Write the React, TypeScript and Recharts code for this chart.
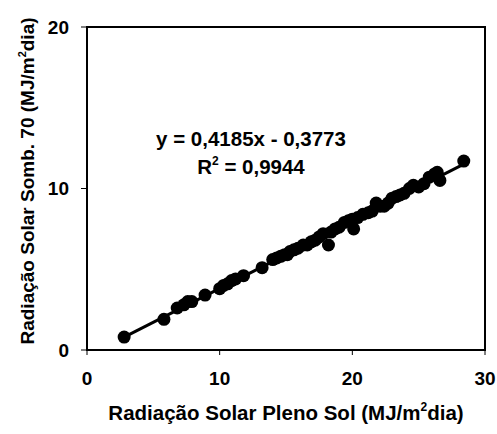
import { ScatterChart, Scatter, XAxis, YAxis, ReferenceArea } from "recharts";

// Radiação pleno sol (x) vs. sombreamento 70% (y), MJ/m²dia
const plenoSol = [
  2.8, 5.8, 6.8, 7.3, 7.6, 7.9, 8.9, 10.0, 10.3, 10.6, 10.9, 11.2, 11.8, 13.2,
  14.0, 14.3, 14.6, 14.9, 15.1, 15.3, 15.6, 15.9, 16.3, 16.6, 16.9, 17.2, 17.5,
  17.8, 18.2, 18.4, 18.7, 19.0, 19.4, 19.7, 20.0, 20.1, 20.4, 20.8, 21.2, 21.5,
  21.8, 22.1, 22.4, 22.7, 23.0, 23.3, 23.6, 23.9, 24.3, 24.6, 25.0, 25.4, 25.8,
  26.2, 26.4, 26.6, 28.4,
];
const somb70 = [
  0.8, 1.9, 2.6, 2.8, 3.0, 3.0, 3.4, 3.8, 4.0, 4.1, 4.3, 4.4, 4.6, 5.1,
  5.6, 5.7, 5.8, 5.9, 5.9, 6.1, 6.2, 6.3, 6.5, 6.5, 6.7, 6.8, 7.0,
  7.2, 6.5, 7.3, 7.5, 7.6, 7.9, 8.0, 8.1, 7.5, 8.2, 8.4, 8.5, 8.6,
  9.1, 8.9, 8.9, 9.1, 9.4, 9.5, 9.6, 9.7, 10.0, 10.2, 10.1, 10.3, 10.7,
  10.9, 11.0, 10.5, 11.7,
];
const xTicks = [0, 10, 20, 30];
const yTicks = [0, 10, 20];

// linear fit shown in the annotation
const slope = 0.4185;
const intercept = -0.3773;
const fitX = [2.8, 28.4];

const points = plenoSol.map((x, i) => ({ x, y: somb70[i] }));
const fitLine = fitX.map((x) => ({ x, y: slope * x + intercept }));

const FONT = "'Liberation Sans', Arial, sans-serif";

const Dot = (props: any) => <circle cx={props.cx} cy={props.cy} r={6.5} fill="#000" />;
const NoDot = () => <g />;

export default function App() {
  return (
    <div style={{ position: "absolute", left: 0, top: 0, background: "#fff" }}>
      <ScatterChart
        width={497}
        height={434}
        margin={{ top: 27, right: 12, bottom: 54, left: 47 }}
        style={{ fontFamily: FONT }}
      >
        <XAxis
          type="number"
          dataKey="x"
          domain={[0, 30]}
          ticks={xTicks}
          height={30}
          axisLine={{ stroke: "#000", strokeWidth: 2 }}
          tickLine={{ stroke: "#000", strokeWidth: 1 }}
          tickSize={5}
          tickMargin={17}
          tick={{ fill: "#000", fontSize: 19, fontWeight: "bold" }}
        />
        <YAxis
          type="number"
          dataKey="y"
          domain={[0, 20]}
          ticks={yTicks}
          width={40}
          axisLine={{ stroke: "#000", strokeWidth: 2 }}
          tickLine={{ stroke: "#000", strokeWidth: 1 }}
          tickSize={6}
          tickMargin={12}
          tick={{ fill: "#000", fontSize: 19, fontWeight: "bold" }}
        />
        <ReferenceArea x1={0} x2={30} y1={0} y2={20} fill="none" stroke="#000" strokeWidth={2} />
        <Scatter
          data={fitLine}
          line={{ stroke: "#000", strokeWidth: 3 }}
          shape={NoDot}
          isAnimationActive={false}
        />
        <Scatter data={points} fill="#000" shape={Dot} isAnimationActive={false} />
        <text x={251} y={146} textAnchor="middle" fontSize={20.5} fontWeight="bold" fill="#000">
          y = 0,4185x - 0,3773
        </text>
        <text x={251} y={174} textAnchor="middle" fontSize={20.5} fontWeight="bold" fill="#000">
          R<tspan dy={-9} fontSize={12}>2</tspan>
          <tspan dy={9}> = 0,9944</tspan>
        </text>
        <text x={286} y={420} textAnchor="middle" fontSize={20.5} fontWeight="bold" fill="#000">
          Radiação Solar Pleno Sol (MJ/m<tspan dy={-9} fontSize={12}>2</tspan>
          <tspan dy={9}>dia)</tspan>
        </text>
        <text
          transform="translate(34,181) rotate(-90)"
          x={0}
          y={0}
          textAnchor="middle"
          fontSize={19}
          fontWeight="bold"
          fill="#000"
        >
          Radiação Solar Somb. 70 (MJ/m<tspan dy={-8} fontSize={11}>2</tspan>
          <tspan dy={8}>dia)</tspan>
        </text>
      </ScatterChart>
    </div>
  );
}
